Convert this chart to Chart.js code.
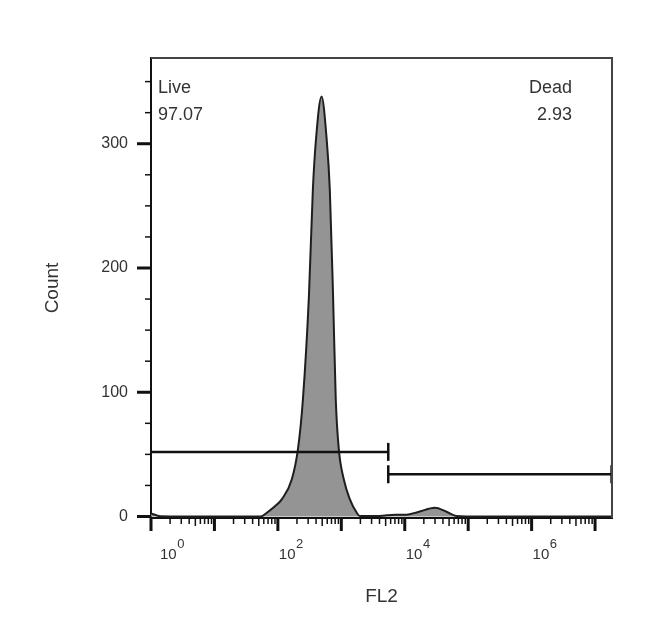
<!DOCTYPE html>
<html>
<head>
<meta charset="utf-8">
<script src="https://cdn.jsdelivr.net/npm/chart.js@4.4.0/dist/chart.umd.min.js"></script>
<style>
  html, body { margin: 0; padding: 0; background: #fff; }
  #wrap { width: 650px; height: 640px; }
</style>
</head>
<body>
<div id="wrap"><canvas id="histChart" width="650" height="640"></canvas></div>
<script>
// FL2 channel values and counts
const fl2Values = [1, 1.4, 10, 50, 56, 67, 89, 116, 166, 207, 248, 309, 356, 398, 488,
                   589, 659, 741, 818, 914, 1094, 1361, 1754, 1950, 3980, 7080, 10700,
                   15800, 30000, 44700, 64600, 158000, 18500000];
const counts = [2.5, 0.3, 0, 0, 0.3, 3, 8, 14, 30, 54, 94, 178, 263, 303, 338,
                303, 263, 178, 94, 54, 30, 14, 3, 0.5, 0.5, 1.5, 1.5,
                3.5, 7, 4, 0.5, 0, 0];

// gates (FL2 start/end and the count level they sit at)
const liveGate = [1, 5500];
const liveLevel = 52;
const deadGate = [5500, 18200000];
const deadLevel = 34;
const gateNames = ['Live', 'Dead'];
const gatePercents = ['97.07', '2.93'];

// axis ticks
const xDecades = [0, 1, 2, 3, 4, 5, 6, 7];
const xLabelDecades = [0, 2, 4, 6];
const yMajorTicks = [0, 100, 200, 300];
const yMinorTicks = [25, 50, 75, 125, 150, 175, 225, 250, 275, 325, 350];

const FONT = "'Liberation Sans', Arial, sans-serif";

const decor = {
    id: 'decor',
    afterDraw(chart) {
        const ctx = chart.ctx;
        const {left, right, top, bottom} = chart.chartArea;
        const x = chart.scales.x, y = chart.scales.y;
        ctx.save();
        // frame top + right
        ctx.strokeStyle = '#444';
        ctx.lineWidth = 2;
        ctx.beginPath();
        ctx.moveTo(left, top);
        ctx.lineTo(right, top);
        ctx.lineTo(right, bottom);
        ctx.stroke();

        ctx.strokeStyle = '#111';
        // x tick marks, log decades with minor ticks
        xDecades.forEach(d => {
            const px = x.getPixelForValue(Math.pow(10, d));
            ctx.lineWidth = 3;
            ctx.beginPath(); ctx.moveTo(px, bottom); ctx.lineTo(px, bottom + 13); ctx.stroke();
            for (let m = 2; m <= 9; m++) {
                const v = m * Math.pow(10, d);
                if (v > x.max) break;
                const mx = x.getPixelForValue(v);
                ctx.lineWidth = 1.5;
                ctx.beginPath(); ctx.moveTo(mx, bottom); ctx.lineTo(mx, bottom + (m === 5 ? 8 : 6)); ctx.stroke();
            }
        });
        // y tick marks
        yMajorTicks.forEach(v => {
            const py = y.getPixelForValue(v);
            ctx.lineWidth = 3;
            ctx.beginPath(); ctx.moveTo(left - 14, py); ctx.lineTo(left, py); ctx.stroke();
        });
        yMinorTicks.forEach(v => {
            const py = y.getPixelForValue(v);
            ctx.lineWidth = 1.5;
            ctx.beginPath(); ctx.moveTo(left - 6, py); ctx.lineTo(left, py); ctx.stroke();
        });

        // x decade labels with raised exponent
        ctx.fillStyle = '#333';
        ctx.textAlign = 'left';
        ctx.textBaseline = 'alphabetic';
        xLabelDecades.forEach(d => {
            const px = x.getPixelForValue(Math.pow(10, d)) + (d === 0 ? 9 : 1);
            ctx.font = '15px ' + FONT;
            ctx.fillText('10', px, bottom + 41);
            const w = ctx.measureText('10').width;
            ctx.font = '13px ' + FONT;
            ctx.fillText(String(d), px + w + 0.5, bottom + 30);
        });

        // gate names and percentages
        ctx.font = '18px ' + FONT;
        ctx.textAlign = 'left';
        ctx.fillText(gateNames[0], left + 7, top + 35);
        ctx.fillText(gatePercents[0], left + 7, top + 62);
        ctx.textAlign = 'right';
        ctx.fillText(gateNames[1], right - 40, top + 35);
        ctx.fillText(gatePercents[1], right - 40, top + 62);
        ctx.restore();
    }
};

const histData = fl2Values.map((v, i) => ({x: v, y: counts[i]}));

new Chart(document.getElementById('histChart').getContext('2d'), {
    type: 'line',
    data: {
        datasets: [{
            label: 'Live',
            data: [{x: liveGate[0], y: liveLevel}, {x: liveGate[1], y: liveLevel}],
            borderColor: '#111',
            borderWidth: 2.5,
            pointStyle: 'line',
            rotation: 90,
            pointRadius: [0, 9],
            pointBorderWidth: 2.5,
            pointBorderColor: '#111',
            fill: false,
            clip: false,
            order: 0
        }, {
            label: 'Dead',
            data: [{x: deadGate[0], y: deadLevel}, {x: deadGate[1], y: deadLevel}],
            borderColor: '#111',
            borderWidth: 2.5,
            pointStyle: 'line',
            rotation: 90,
            pointRadius: 9,
            pointBorderWidth: 2.5,
            pointBorderColor: '#111',
            fill: false,
            clip: false,
            order: 0
        }, {
            label: 'FL2',
            data: histData,
            borderColor: '#1e1e1e',
            borderWidth: 2,
            backgroundColor: '#949494',
            fill: 'origin',
            pointRadius: 0,
            cubicInterpolationMode: 'monotone',
            order: 2
        }]
    },
    options: {
        responsive: false,
        animation: false,
        layout: { padding: { top: 58, right: 38, left: 0, bottom: 0 } },
        plugins: { legend: { display: false }, tooltip: { enabled: false } },
        scales: {
            x: {
                type: 'logarithmic',
                position: 'bottom',
                min: 1,
                max: 18500000,
                afterBuildTicks: s => { s.ticks = xDecades.map(d => ({value: Math.pow(10, d)})); },
                afterFit: s => { s.height = 122; },
                grid: { display: false, drawTicks: false },
                border: { display: true, color: '#111', width: 2 },
                ticks: { display: false },
                title: { display: true, text: 'FL2', color: '#333',
                         font: { family: FONT, size: 19 }, padding: { top: 0, bottom: 32 } }
            },
            y: {
                min: -1.2,
                max: 369,
                afterBuildTicks: s => { s.ticks = yMajorTicks.map(v => ({value: v})); },
                afterFit: s => { s.width = 151; },
                grid: { display: false, drawTicks: false },
                border: { display: true, color: '#111', width: 2 },
                ticks: { padding: 23, color: '#333', font: { family: FONT, size: 16 } },
                title: { display: true, text: 'Count', color: '#333',
                         font: { family: FONT, size: 19 }, padding: { top: 41, bottom: 0 } }
            }
        }
    },
    plugins: [decor]
});
</script>
</body>
</html>
